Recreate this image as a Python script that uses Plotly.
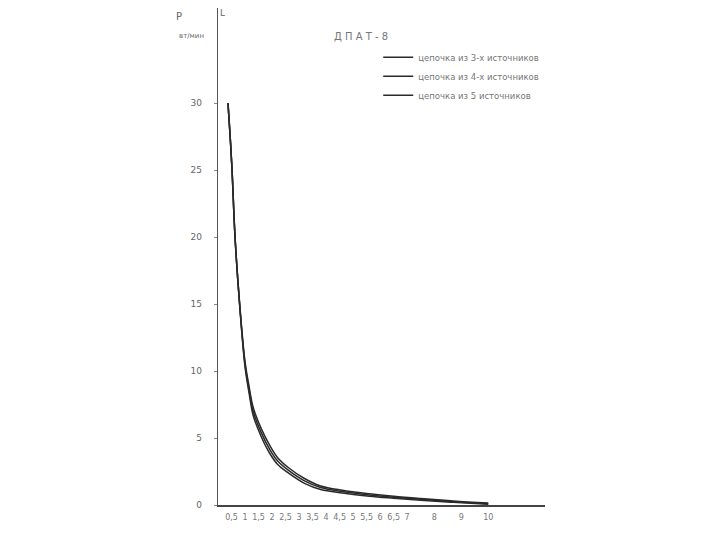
import plotly.graph_objects as go

# distance-like x values
x_vals = [0.37, 0.45, 0.52, 0.63, 0.8, 1.0, 1.15, 1.3, 1.6, 1.9, 2.2, 2.6,
          3.2, 3.8, 4.6, 5.6, 6.5, 7.5, 8.7, 10.0]

chain3 = [30, 27.5, 25, 20, 15.05, 10.7, 8.85, 7.3, 5.7, 4.5, 3.55, 2.8,
          1.98, 1.42, 1.1, 0.84, 0.65, 0.48, 0.3, 0.14]
chain4 = [30, 27.5, 25, 20, 15.0, 10.5, 8.6, 7.0, 5.4, 4.2, 3.3, 2.6,
          1.8, 1.3, 1.0, 0.75, 0.58, 0.42, 0.25, 0.1]
chain5 = [30, 27.5, 25, 20, 14.95, 10.3, 8.35, 6.7, 5.1, 3.9, 3.05, 2.4,
          1.62, 1.16, 0.9, 0.66, 0.51, 0.36, 0.2, 0.06]

series_names = ["цепочка из 3-х источников",
                "цепочка из 4-х источников",
                "цепочка из 5 источников"]

x_ticks = [0.5, 1, 1.5, 2, 2.5, 3, 3.5, 4, 4.5, 5, 5.5, 6, 6.5, 7, 8, 9, 10]
x_tick_text = ["0,5", "1", "1,5", "2", "2,5", "3", "3,5", "4", "4,5", "5",
               "5,5", "6", "6,5", "7", "8", "9", "10"]
y_ticks = [0, 5, 10, 15, 20, 25, 30]
y_tick_text = ["0", "5", "10", "15", "20", "25", "30"]

fig = go.Figure()
for name, ys in zip(series_names, [chain3, chain4, chain5]):
    fig.add_trace(go.Scatter(x=x_vals, y=ys, mode="lines", name=name,
                             line=dict(color="#2a2a2a", width=1.5, shape="spline")))

font = dict(family="DejaVu Sans", size=9, color="#666666")

fig.update_layout(
    width=720, height=540,
    margin=dict(l=210, r=183, t=0, b=43),
    paper_bgcolor="white", plot_bgcolor="white",
    font=font,
    showlegend=True,
    legend=dict(x=0.49, y=0.93, xanchor="left", yanchor="top",
                font=dict(family="DejaVu Sans", size=8.5, color="#777777"),
                itemwidth=30, tracegroupgap=0, bgcolor="rgba(0,0,0,0)"),
    xaxis=dict(range=[0, 12.1], showgrid=False, zeroline=False,
               showline=True, linecolor="#444444", linewidth=1.5,
               tickvals=x_ticks, ticktext=x_tick_text, ticks="",
               tickfont=dict(family="DejaVu Sans", size=8, color="#777777"),
               ticklabelstandoff=4),
    yaxis=dict(range=[0, 37.1], showgrid=False, zeroline=False,
               showline=True, linecolor="#555555", linewidth=1.3,
               tickvals=y_ticks, ticktext=y_tick_text, ticks="outside",
               ticklen=3, tickcolor="#888888",
               tickfont=dict(family="DejaVu Sans", size=9, color="#666666"),
               ticklabelstandoff=10),
    annotations=[
        dict(text="P", xref="paper", yref="paper", x=-0.135, y=0.998,
             showarrow=False, font=dict(family="DejaVu Sans", size=10, color="#666666")),
        dict(text="вт/мин", xref="paper", yref="paper", x=-0.125, y=0.955,
             showarrow=False, font=dict(family="DejaVu Sans", size=7, color="#666666")),
        dict(text="L", xref="paper", yref="paper", x=0.0, y=1.005, xanchor="left",
             showarrow=False, font=dict(family="DejaVu Sans", size=9, color="#666666")),
        dict(text="Д П А Т - 8", xref="paper", yref="paper", x=0.35, y=0.958,
             xanchor="left", showarrow=False,
             font=dict(family="DejaVu Sans", size=10, color="#777777")),
    ],
)

fig.write_html("out.html")
